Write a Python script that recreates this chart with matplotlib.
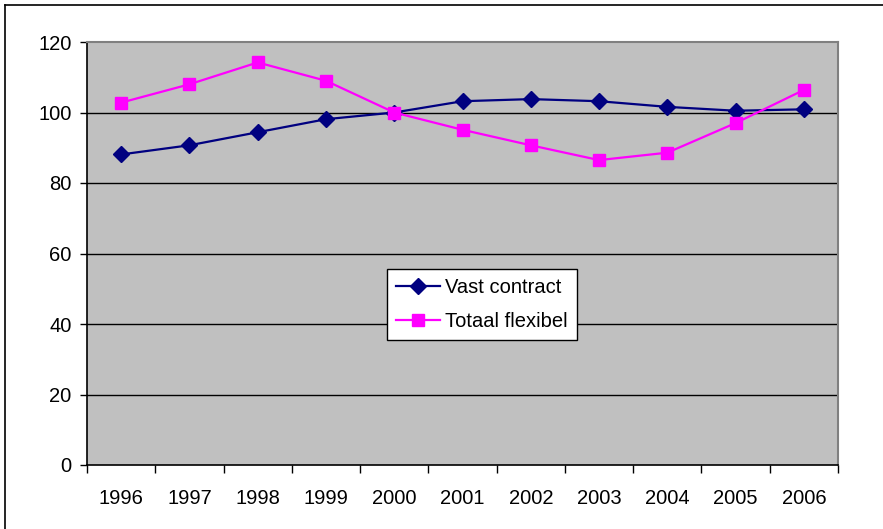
import matplotlib
matplotlib.use("Agg")
import matplotlib.pyplot as plt
from matplotlib.lines import Line2D

years = ["1996", "1997", "1998", "1999", "2000", "2001", "2002", "2003", "2004", "2005", "2006"]
vast_contract = [88.1, 90.7, 94.4, 98.1, 100.0, 103.2, 103.8, 103.2, 101.6, 100.5, 100.9]
totaal_flexibel = [102.8, 108.0, 114.2, 109.0, 100.0, 95.1, 90.7, 86.5, 88.6, 97.0, 106.4]
y_ticks = [0, 20, 40, 60, 80, 100, 120]

plt.rcParams['font.family'] = ['Liberation Sans', 'DejaVu Sans']

W, H = 883, 529
fig = plt.figure(figsize=(W / 100, H / 100), dpi=100)
fig.patch.set_facecolor('white')

ax = fig.add_axes([87 / W, 1 - 465 / H, (838 - 87) / W, (465 - 42) / H])
ax.set_facecolor('#C0C0C0')

x = list(range(len(years)))
ax.plot(x, vast_contract, color='#000080', lw=1.6, marker='D', markersize=8,
        markerfacecolor='#000080', markeredgecolor='#000080', label='Vast contract', zorder=3)
ax.plot(x, totaal_flexibel, color='#FF00FF', lw=1.6, marker='s', markersize=8.5,
        markerfacecolor='#FF00FF', markeredgecolor='#FF00FF', label='Totaal flexibel', zorder=3)

ax.set_xlim(-0.5, len(years) - 0.5)
ax.set_ylim(0, 120)
ax.set_yticks(y_ticks)
ax.set_yticklabels([str(v) for v in y_ticks])
ax.set_xticks(x)
ax.set_xticklabels(years)
ax.set_xticks([i - 0.5 for i in range(len(years) + 1)], minor=True)
ax.tick_params(axis='x', which='major', length=0, pad=17, labelsize=14.5)
ax.tick_params(axis='x', which='minor', length=6, direction='out', width=1, color='black')
ax.tick_params(axis='y', which='major', length=5, direction='out', width=1, pad=6, labelsize=14.5)

for v in y_ticks[1:-1]:
    ax.axhline(v, color='black', lw=1, zorder=1)

for side in ['left', 'bottom']:
    ax.spines[side].set_color('black')
    ax.spines[side].set_linewidth(1.2)
for side in ['top', 'right']:
    ax.spines[side].set_color('#808080')
    ax.spines[side].set_linewidth(1.5)

leg = ax.legend(loc='upper left', bbox_to_anchor=(387 / W, 1 - 269 / H),
                bbox_transform=fig.transFigure, fontsize=14.5, frameon=True,
                fancybox=False, edgecolor='black', facecolor='white', framealpha=1,
                handlelength=2.2, handletextpad=0.25, labelspacing=0.75,
                borderpad=0.45, borderaxespad=0)
leg.get_frame().set_linewidth(1.0)
leg.set_zorder(5)

# outer chart border (top and left)
fig.add_artist(Line2D([5 / W, 1], [1 - 5 / H, 1 - 5 / H], transform=fig.transFigure,
                      color='black', lw=1.2))
fig.add_artist(Line2D([5 / W, 5 / W], [0, 1 - 5 / H], transform=fig.transFigure,
                      color='black', lw=1.2))

fig.savefig('out.png', dpi=100)
